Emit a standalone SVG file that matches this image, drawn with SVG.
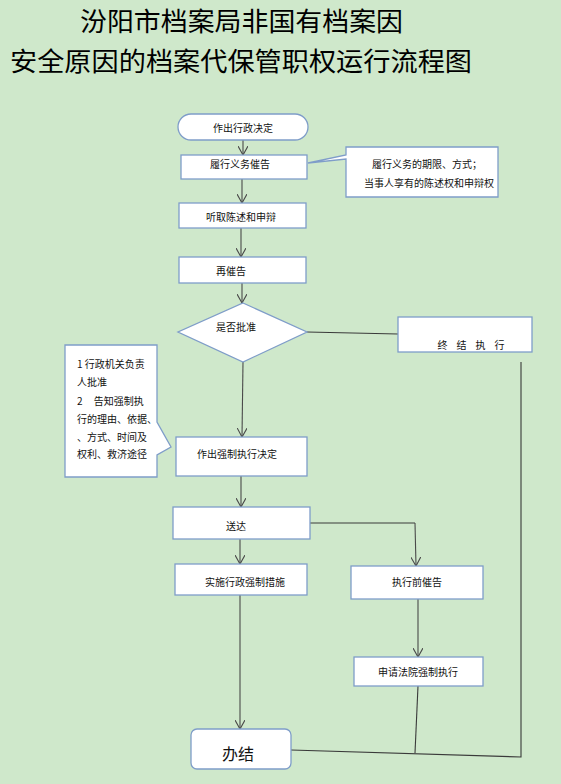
<svg xmlns="http://www.w3.org/2000/svg" width="561" height="784" viewBox="0 0 561 784">
<defs>
<style>
.bx{fill:#ffffff;stroke:#7f9dc9;stroke-width:1.3}
.t{font-family:"Noto Sans CJK SC","Liberation Sans",sans-serif;font-size:10px;fill:#111;dominant-baseline:central}
.tt{font-family:"Noto Sans CJK SC",sans-serif;font-size:26px;fill:#000}
.ln{fill:none;stroke:#3a3a3a;stroke-width:1.1}
.ar{fill:none;stroke:#4a4a4a;stroke-width:1.1;marker-end:url(#a)}
</style>
<marker id="a" viewBox="0 0 10 10" refX="9" refY="5" markerWidth="10" markerHeight="10" markerUnits="userSpaceOnUse" orient="auto">
<path d="M0,0 L9,5 L0,10" fill="none" stroke="#4a4a4a" stroke-width="1.1"/>
</marker>
</defs>
<rect x="0" y="0" width="561" height="784" fill="#cfe8cb"/>
<g id="title">
<text class="tt" x="80" y="31" textLength="323" lengthAdjust="spacingAndGlyphs">汾阳市档案局非国有档案因</text>
<text class="tt" x="10" y="71" textLength="462" lengthAdjust="spacingAndGlyphs">安全原因的档案代保管职权运行流程图</text>
</g>
<g id="connectors">
<line class="ar" x1="243" y1="140" x2="243" y2="155"/>
<line class="ar" x1="242" y1="179" x2="242" y2="203"/>
<line class="ar" x1="241" y1="228" x2="241" y2="257"/>
<line class="ar" x1="242" y1="283" x2="242" y2="303"/>
<line class="ar" x1="243" y1="362" x2="242" y2="437"/>
<line class="ln" x1="307" y1="332" x2="398" y2="334"/>
<line class="ar" x1="241" y1="476" x2="241" y2="507"/>
<line class="ar" x1="240" y1="539" x2="240" y2="564"/>
<polyline class="ln" points="310,523 415,523"/>
<line class="ar" x1="415" y1="523" x2="416" y2="566"/>
<line class="ar" x1="418" y1="599" x2="418" y2="657"/>
<line class="ar" x1="240" y1="595" x2="240" y2="729"/>
<line class="ln" x1="418" y1="686" x2="415" y2="753"/>
<polyline class="ln" points="521,362 521,757 291,750"/>
</g>
<g id="n1">
<rect class="bx" x="178" y="114" width="130" height="26" rx="13"/>
<text class="t" x="243" y="127" text-anchor="middle">作出行政决定</text>
</g>
<g id="n2">
<rect class="bx" x="181" y="155" width="126" height="24"/>
<text class="t" x="240" y="163" text-anchor="middle">履行义务催告</text>
</g>
<g id="c1">
<polygon class="bx" points="346,147 498,147 498,197 346,197 346,159 308,163 346,155"/>
<text class="t" x="427" y="163" text-anchor="middle">履行义务的期限、方式；</text>
<text class="t" x="429" y="182" text-anchor="middle">当事人享有的陈述权和申辩权</text>
</g>
<g id="n3">
<rect class="bx" x="179" y="203" width="127" height="25"/>
<text class="t" x="241" y="216" text-anchor="middle">听取陈述和申辩</text>
</g>
<g id="n4">
<rect class="bx" x="179" y="257" width="127" height="26"/>
<text class="t" x="231" y="270" text-anchor="middle">再催告</text>
</g>
<g id="d1">
<polygon class="bx" points="243,303 307,332 243,362 178,332"/>
<text class="t" x="236" y="326" text-anchor="middle">是否批准</text>
</g>
<g id="n5">
<rect class="bx" x="398" y="317" width="134" height="35"/>
<text class="t" x="471" y="344" text-anchor="middle" xml:space="preserve">终    结    执    行</text>
</g>
<g id="c2">
<polygon class="bx" points="65,345 157,345 157,422 171,447 157,455 157,477 65,477"/>
<text class="t" x="77" y="363">1 行政机关负责</text>
<text class="t" x="77" y="381">人批准</text>
<text class="t" x="77" y="400" xml:space="preserve">2     告知强制执</text>
<text class="t" x="77" y="418">行的理由、依据、</text>
<text class="t" x="77" y="436">、方式、时间及</text>
<text class="t" x="77" y="453">权利、救济途径</text>
</g>
<g id="n6">
<rect class="bx" x="176" y="437" width="131" height="39"/>
<text class="t" x="237" y="453" text-anchor="middle">作出强制执行决定</text>
</g>
<g id="n7">
<rect class="bx" x="173" y="507" width="137" height="32"/>
<text class="t" x="236" y="525" text-anchor="middle">送达</text>
</g>
<g id="n8">
<rect class="bx" x="175" y="564" width="132" height="31"/>
<text class="t" x="245" y="581" text-anchor="middle">实施行政强制措施</text>
</g>
<g id="n9">
<rect class="bx" x="351" y="566" width="132" height="33"/>
<text class="t" x="417" y="581" text-anchor="middle">执行前催告</text>
</g>
<g id="n10">
<rect class="bx" x="354" y="657" width="129" height="29"/>
<text class="t" x="418" y="671" text-anchor="middle">申请法院强制执行</text>
</g>
<g id="n11">
<rect class="bx" x="191" y="729" width="100" height="40" rx="6"/>
<text class="t" x="238" y="753" text-anchor="middle" style="font-size:16px">办结</text>
</g>
</svg>
